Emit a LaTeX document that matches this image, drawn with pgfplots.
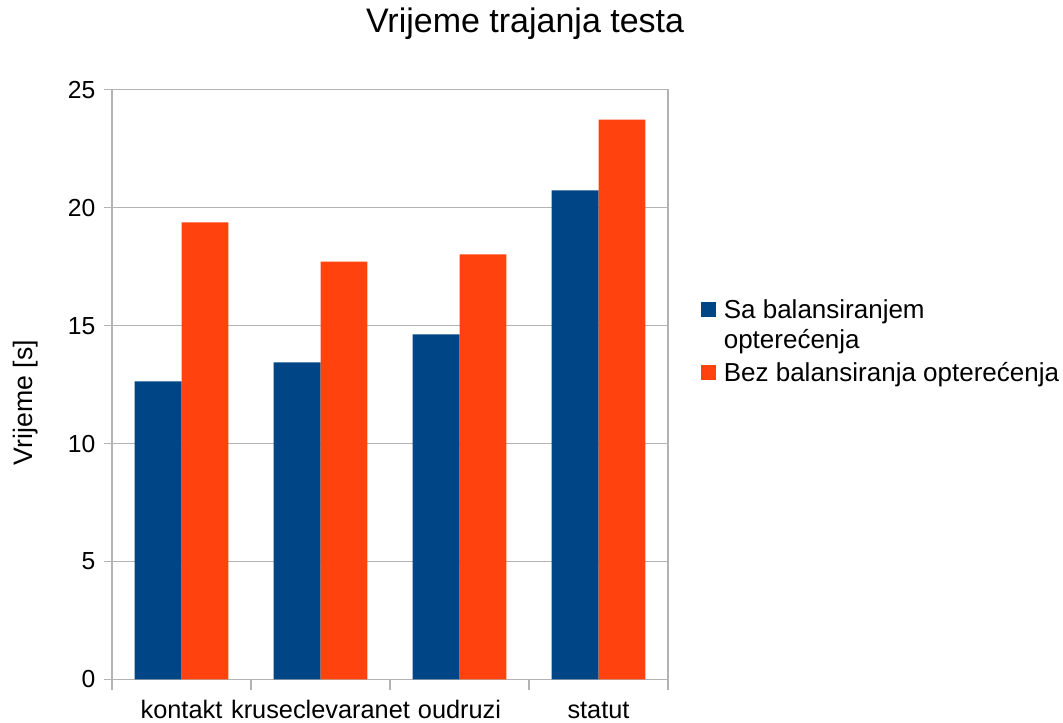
\documentclass[border=0pt]{standalone}
\usepackage{pgfplots}
\pgfplotsset{compat=1.18}
\usepackage{fontspec}
\setmainfont{Liberation Sans}
\definecolor{lobblue}{HTML}{004586}
\definecolor{loorange}{HTML}{FF420E}
\definecolor{frame}{HTML}{B3B3B3}
\begin{document}
\begin{tikzpicture}
\useasboundingbox (0,0) rectangle (797.25pt,541.5pt);
\begin{axis}[
  at={(84pt,32pt)}, anchor=south west,
  scale only axis,
  width=417pt, height=442.1pt,
  ybar=0pt, bar width=0.338,
  xmin=-0.5, xmax=3.5,
  ymin=0, ymax=25,
  ytick={0,5,10,15,20,25},
  xtick={0,1,2,3},
  xticklabels={kontakt,kruseclevaranet,oudruzi,statut},
  minor xtick={-0.5,0.5,1.5,2.5,3.5},
  tick pos=left,
  tick align=outside,
  major x tick style={draw=none},
  minor x tick style={draw=frame, line width=0.8pt},
  minor tick length=8pt,
  major tick length=6pt,
  y tick style={draw=frame, line width=0.8pt},
  ymajorgrids,
  grid style={draw=frame, line width=0.8pt},
  axis line style={draw=frame, line width=0.8pt},
  yticklabel style={font=\fontsize{18.5}{22}\selectfont, xshift=-3pt},
  /pgf/number format/assume math mode=true,
  xticklabel style={font=\fontsize{19}{23}\selectfont, anchor=base, yshift=-23.5pt, text depth=0pt},
  ylabel={Vrijeme [s]},
  ylabel style={at={(axis description cs:-0.1421,0.4696)}, anchor=base, font=\fontsize{20}{24}\selectfont},
  title={Vrijeme trajanja testa},
  title style={at={(axis description cs:0.743,1.0845)}, anchor=base, font=\fontsize{25.5}{30}\selectfont},
  legend style={at={(axis description cs:1.0594,0.6485)}, anchor=north west, draw=none, fill=none,
    font=\fontsize{19.5}{22.5}\selectfont, row sep=3.5pt, column sep=0pt, inner sep=0pt,
    cells={anchor=base west},
    nodes={inner sep=0pt, text depth=}},
  legend image code/.code={\fill[#1] (0pt,0.75pt) rectangle (11.25pt,12pt); \path (16.9pt,0pt);},
  clip=false,
]
\addplot[fill=lobblue, draw=none] coordinates {(0,12.64) (1,13.44) (2,14.63) (3,20.74)};
\addplot[fill=loorange, draw=none] coordinates {(0,19.38) (1,17.72) (2,18.02) (3,23.74)};
\legend{{\begin{tabular}[t]{@{}l@{}}Sa balansiranjem\\opterećenja\end{tabular}},Bez balansiranja opterećenja}
\end{axis}
\end{tikzpicture}
\end{document}
